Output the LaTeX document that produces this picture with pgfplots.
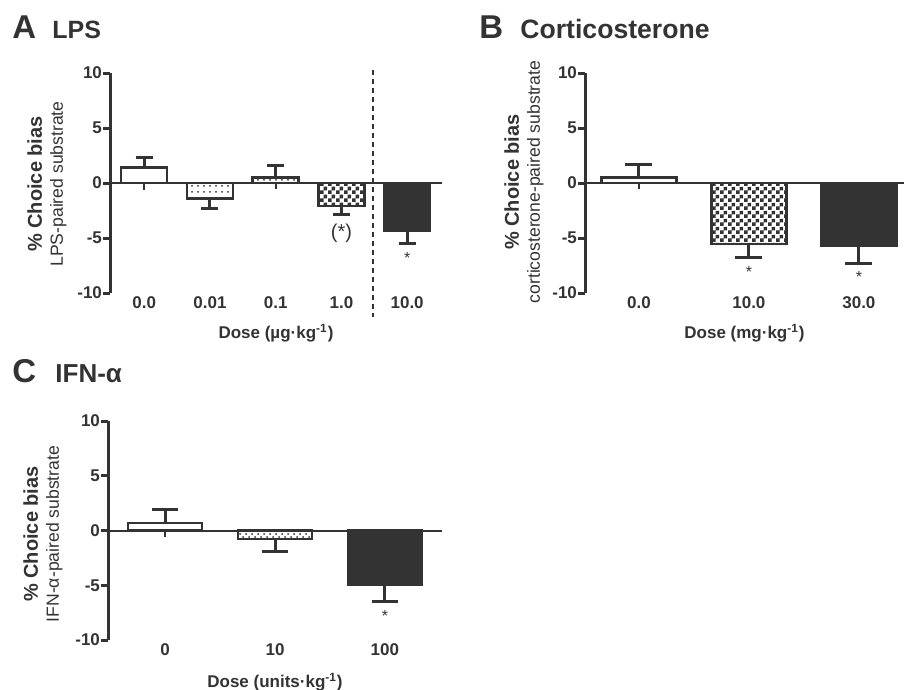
\documentclass[border=0pt]{standalone}
\usepackage{fontspec}
\setmainfont{Liberation Sans}
\usepackage{pgfplots}
\pgfplotsset{compat=1.18}
\usetikzlibrary{patterns}
\definecolor{Dark}{HTML}{333333}

% fine checkerboard (2pt squares)
\pgfdeclarepatternformonly{finecheck}{\pgfqpoint{0pt}{0pt}}{\pgfqpoint{4pt}{4pt}}{\pgfqpoint{4pt}{4pt}}{%
  \pgfpathrectangle{\pgfqpoint{0pt}{0pt}}{\pgfqpoint{2pt}{2pt}}%
  \pgfpathrectangle{\pgfqpoint{2pt}{2pt}}{\pgfqpoint{2pt}{2pt}}%
  \pgfusepath{fill}}

\pgfplotsset{
  biasaxis/.style={
    scale only axis, height=110pt, ymin=-10, ymax=10, clip=false, anchor=south west,
    ytick={-10,-5,0,5,10}, yticklabels={-10,-5,0,5,10},
    axis y line*=left, axis x line*=bottom,
    x axis line style={draw=none}, xtick style={draw=none},
    y axis line style={draw=Dark, line width=1.5pt},
    ytick style={draw=Dark, line width=1.5pt}, tick align=outside, major tick length=3.5pt,
    tick label style={font=\fontsize{8.5}{9}\selectfont\bfseries, text=Dark},
    xticklabel style={yshift=5pt}, yticklabel style={xshift=3pt},
    extra y ticks={0}, extra y tick labels={},
    extra y tick style={grid=major, major grid style={draw=Dark, line width=1pt}},
    xlabel style={font=\fontsize{8.5}{10}\selectfont\bfseries, text=Dark,
      at={(rel axis cs:0.5,0)}, anchor=center, yshift=-20pt},
  },
  bar/.style 2 args={ybar, bar width=#1, bar shift=0pt, draw=Dark, line width=1.2pt,
    error bars/y explicit,
    error bars/error bar style={line width=1.5pt, draw=Dark},
    error bars/error mark options={rotate=90, mark size=#2, line width=1.5pt, draw=Dark}},
  stub/.style={draw=Dark, line width=1pt, mark=none},
}

\begin{document}
\begin{tikzpicture}
\useasboundingbox (0,0) rectangle (452pt,-345pt);

% panel titles
\tikzset{letter/.style={anchor=base west, inner sep=0pt, font=\fontsize{16.5}{18}\selectfont\bfseries, text=Dark},
  subtitle/.style={anchor=base west, inner sep=0pt, font=\fontsize{12.5}{14}\selectfont\bfseries, text=Dark}}
\node[letter] at (6pt,-19.5pt) {A};
\node[subtitle] at (26pt,-19.5pt) {LPS};
\node[letter] at (239.5pt,-19.5pt) {B};
\node[subtitle, font=\fontsize{13.3}{14}\selectfont\bfseries] at (260pt,-19.5pt) {Corticosterone};
\node[letter] at (6pt,-191pt) {C};
\node[subtitle, font=\fontsize{13}{14}\selectfont\bfseries] at (27.5pt,-191pt) {IFN-α};

% y labels
\tikzset{ylab/.style={rotate=90, align=center, text=Dark, font=\fontsize{8.8}{10.5}\selectfont}}
\node[ylab] at (23.5pt,-92pt) {{\fontsize{10}{10.5}\selectfont\bfseries \% Choice bias}\\LPS-paired substrate};
\node[ylab] at (262pt,-91pt) {{\fontsize{10}{10.5}\selectfont\bfseries \% Choice bias}\\corticosterone-paired substrate};
\node[ylab] at (21.5pt,-267pt) {{\fontsize{10}{10.5}\selectfont\bfseries \% Choice bias}\\IFN-α-paired substrate};

% A: LPS
\begin{axis}[biasaxis, at={(55pt,-146.5pt)}, width=166pt,
  xmin=-0.52, xmax=4.53, xtick={0,1,2,3,4},
  xticklabels={0.0,0.01,0.1,1.0,10.0},
  xlabel={Dose (µg·kg\textsuperscript{-1})}]
\addplot[bar={23pt}{4.25pt}, fill=white, error bars/y dir=plus] coordinates {(0,1.4) +- (0,0.95)};
\addplot[bar={23pt}{4.25pt}, pattern=dots, pattern color=Dark, error bars/y dir=minus] coordinates {(1,-1.4) +- (0,0.9)};
\addplot[bar={23pt}{4.25pt}, pattern=crosshatch dots, pattern color=Dark, error bars/y dir=plus] coordinates {(2,0.5) +- (0,1.05)};
\addplot[bar={23pt}{4.25pt}, pattern=finecheck, pattern color=Dark, error bars/y dir=minus] coordinates {(3,-2.1) +- (0,0.8)};
\addplot[bar={23pt}{4.25pt}, fill=Dark, error bars/y dir=minus] coordinates {(4,-4.3) +- (0,1.2)};
\addplot[stub] coordinates {(0,0) (0,-0.6)};
\addplot[stub] coordinates {(2,0) (2,-0.55)};
\draw[Dark, line width=1pt, dash pattern=on 2.5pt off 2pt] (axis cs:3.48,10.3) -- (axis cs:3.48,-12.2);
\node[text=Dark, font=\fontsize{10}{11}\selectfont] at (axis cs:3,-4.6) {(*)};
\node[text=Dark, font=\fontsize{8}{9}\selectfont] at (axis cs:4,-6.8) {*};
\end{axis}

% B: corticosterone
\begin{axis}[biasaxis, at={(292.5pt,-146.5pt)}, width=159.5pt,
  xmin=-0.49, xmax=2.41, xtick={0,1,2},
  xticklabels={0.0,10.0,30.0},
  xlabel={Dose (mg·kg\textsuperscript{-1})}]
\addplot[bar={37.5pt}{6.75pt}, fill=white, error bars/y dir=plus] coordinates {(0,0.5) +- (0,1.2)};
\addplot[bar={37.5pt}{6.75pt}, pattern=finecheck, pattern color=Dark, error bars/y dir=minus] coordinates {(1,-5.55) +- (0,1.25)};
\addplot[bar={37.5pt}{6.75pt}, fill=Dark, error bars/y dir=minus] coordinates {(2,-5.7) +- (0,1.6)};
\addplot[stub] coordinates {(0,0) (0,-0.55)};
\node[text=Dark, font=\fontsize{8}{9}\selectfont] at (axis cs:1,-8.1) {*};
\node[text=Dark, font=\fontsize{8}{9}\selectfont] at (axis cs:2,-8.5) {*};
\end{axis}

% C: IFN-alpha
\begin{axis}[biasaxis, at={(54pt,-320pt)}, width=167pt, height=109.5pt,
  xmin=-0.52, xmax=2.52, xtick={0,1,2},
  xticklabels={0,10,100},
  xlabel={Dose (units·kg\textsuperscript{-1})}, xlabel style={yshift=-1pt}]
\addplot[bar={37pt}{6.5pt}, fill=white, error bars/y dir=plus] coordinates {(0,0.7) +- (0,1.2)};
\addplot[bar={37pt}{6.5pt}, pattern=crosshatch dots, pattern color=Dark, error bars/y dir=minus] coordinates {(1,-0.75) +- (0,1.15)};
\addplot[bar={37pt}{6.5pt}, fill=Dark, error bars/y dir=minus] coordinates {(2,-5.0) +- (0,1.5)};
\addplot[stub] coordinates {(0,0) (0,-0.55)};
\node[text=Dark, font=\fontsize{8}{9}\selectfont] at (axis cs:2,-7.8) {*};
\end{axis}
\end{tikzpicture}
\end{document}
